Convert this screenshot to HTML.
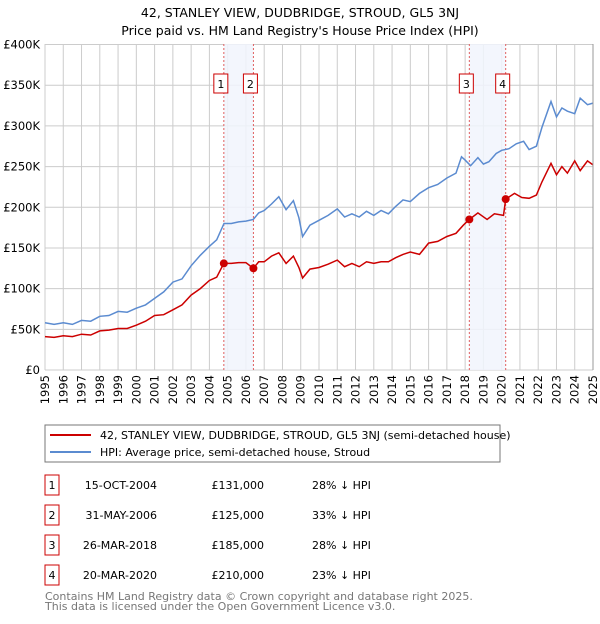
<!DOCTYPE html>
<html><head><meta charset="utf-8"><style>
body{margin:0;background:#fff;font-family:"DejaVu Sans","Liberation Sans",sans-serif;}
svg text{font-family:"DejaVu Sans","Liberation Sans",sans-serif;}
</style></head><body>
<svg id="c" width="600" height="620" viewBox="0 0 600 620" xmlns="http://www.w3.org/2000/svg">
<text x="300" y="17" text-anchor="middle" font-size="12.5">42, STANLEY VIEW, DUDBRIDGE, STROUD, GL5 3NJ</text>
<text x="300" y="35" text-anchor="middle" font-size="12.5">Price paid vs. HM Land Registry's House Price Index (HPI)</text>
<g id="grid"></g><g id="bands"></g><g id="lines"></g><g id="axes"></g>
<rect x="45" y="425" width="455" height="37" fill="#fff" stroke="#777"/>
<line x1="50" y1="435" x2="91" y2="435" stroke="#cc0000" stroke-width="2"/>
<text x="100" y="439" font-size="11">42, STANLEY VIEW, DUDBRIDGE, STROUD, GL5 3NJ (semi-detached house)</text>
<line x1="50" y1="452" x2="91" y2="452" stroke="#5b8bd0" stroke-width="2"/>
<text x="100" y="456" font-size="11">HPI: Average price, semi-detached house, Stroud</text>
<g id="table" font-size="11"></g>
<text x="45" y="600" font-size="11" fill="#777">Contains HM Land Registry data © Crown copyright and database right 2025.</text>
<text x="45" y="610" font-size="11" fill="#777">This data is licensed under the Open Government Licence v3.0.</text>
</svg>
<script>
const hpiT=[1995,1995.5,1996,1996.5,1997,1997.5,1998,1998.5,1999,1999.5,2000,2000.5,2001,2001.5,2002,2002.5,2003,2003.5,2004,2004.4,2004.8,2005.2,2005.6,2006,2006.4,2006.7,2007,2007.4,2007.8,2008.2,2008.6,2008.9,2009.1,2009.5,2010,2010.5,2011,2011.4,2011.8,2012.2,2012.6,2013,2013.4,2013.8,2014.2,2014.6,2015,2015.5,2016,2016.5,2017,2017.5,2017.8,2018,2018.3,2018.7,2019,2019.3,2019.7,2020,2020.4,2020.8,2021.2,2021.5,2021.9,2022.2,2022.7,2023,2023.3,2023.6,2024,2024.3,2024.7,2025];
const hpiV=[58,56,58,56,61,60,66,67,72,71,76,80,88,96,108,112,128,141,152,160,180,180,182,183,185,193,196,204,213,197,208,187,164,178,184,190,198,188,192,188,195,190,196,192,201,209,207,217,224,228,236,242,262,258,251,261,253,256,266,270,272,278,281,271,275,298,330,311,322,318,315,334,326,328];
const paidT=[1995,1995.5,1996,1996.5,1997,1997.5,1998,1998.5,1999,1999.5,2000,2000.5,2001,2001.5,2002,2002.5,2003,2003.5,2004,2004.4,2004.79,2005.2,2005.6,2006,2006.41,2006.7,2007,2007.4,2007.8,2008.2,2008.6,2008.9,2009.1,2009.5,2010,2010.5,2011,2011.4,2011.8,2012.2,2012.6,2013,2013.4,2013.8,2014.2,2014.6,2015,2015.5,2016,2016.5,2017,2017.5,2017.9,2018.23,2018.7,2019.2,2019.6,2020.1,2020.22,2020.7,2021.1,2021.5,2021.9,2022.2,2022.7,2023,2023.3,2023.6,2024,2024.3,2024.7,2025];
const paidV=[41,40,42,41,44,43,48,49,51,51,55,60,67,68,74,80,92,100,110,114,131,131,132,132,125,133,133,140,144,131,140,126,113,124,126,130,135,127,131,127,133,131,133,133,138,142,145,142,156,158,164,168,178,185,193,185,192,190,210,217,212,211,215,231,254,240,250,242,257,245,257,252];
const sales=[{n:"1",t:2004.79,v:131,d:"15-OCT-2004",p:"£131,000",h:"28% ↓ HPI"},{n:"2",t:2006.41,v:125,d:"31-MAY-2006",p:"£125,000",h:"33% ↓ HPI"},{n:"3",t:2018.23,v:185,d:"26-MAR-2018",p:"£185,000",h:"28% ↓ HPI"},{n:"4",t:2020.22,v:210,d:"20-MAR-2020",p:"£210,000",h:"23% ↓ HPI"}];
const yTicks=[0,50,100,150,200,250,300,350,400];
const yLabels=["£0","£50K","£100K","£150K","£200K","£250K","£300K","£350K","£400K"];
const NS="http://www.w3.org/2000/svg";
const X=t=>45+(t-1995)*(548/30), Y=v=>370-v*(325.5/400);
function mk(tag,attrs,parent){const e=document.createElementNS(NS,tag);for(const k in attrs)e.setAttribute(k,attrs[k]);parent.appendChild(e);return e;}
const grid=document.getElementById('grid'),axes=document.getElementById('axes'),bands=document.getElementById('bands'),lines=document.getElementById('lines'),table=document.getElementById('table');
for(let y=1995;y<=2025;y++){
 const l=mk('line',{x1:X(y),x2:X(y),y1:44,y2:370,stroke:'#ccc'},grid);
 
 
 const t=mk('text',{x:0,y:0,'font-size':11.5,'text-anchor':'end',transform:`translate(${X(y)+4},375) rotate(-90)`},axes);
 t.textContent=y;
 
 
}
yTicks.forEach((v,i)=>{
 const l=mk('line',{x1:45,x2:593,y1:Y(v),y2:Y(v),stroke:'#ccc'},grid);
 
 
 const t=mk('text',{x:40,y:Y(v)+4,'font-size':11.5,'text-anchor':'end'},axes);
 t.textContent=yLabels[i];
 
 
});
[[0,1],[2,3]].forEach(([a,b],i)=>{
 const r=mk('rect',{x:X(sales[a].t),y:44,width:X(sales[b].t)-X(sales[a].t),height:326,fill:'#f1f5fd',opacity:0.85},bands);
 
 
});
sales.forEach(s=>{
 const l=mk('line',{x1:X(s.t),x2:X(s.t),y1:44,y2:370,stroke:'#e06060','stroke-dasharray':'2,2'},bands);
 
 
 const r=mk('rect',{x:X(s.t)-10,y:74,width:14,height:19,fill:'#fff',stroke:'#cc0000'},bands);
 
 
 const t=mk('text',{x:X(s.t)-3,y:88,'font-size':11,'text-anchor':'middle'},bands);
 t.textContent=s.n;
 
 
});
const hp=mk('path',{d:hpiT.map((t,i)=>(i?'L':'M')+X(t).toFixed(1)+' '+Y(hpiV[i]).toFixed(1)).join(''),fill:'none',stroke:'#5b8bd0','stroke-width':1.5},lines);


const pp=mk('path',{d:paidT.map((t,i)=>(i?'L':'M')+X(t).toFixed(1)+' '+Y(paidV[i]).toFixed(1)).join(''),fill:'none',stroke:'#cc0000','stroke-width':1.5},lines);


sales.forEach((s,i)=>{
 const c=mk('circle',{cx:X(s.t),cy:Y(s.v),r:4,fill:'#cc0000'},lines);
 
 
 const ry=483+i*30;
 const b=mk('rect',{x:45,y:ry-8,width:14,height:20,fill:'#fff',stroke:'#cc0000'},table);
 
 
 const cells=[[s.n,52,'middle'],[s.d,157,'end'],[s.p,264,'end'],[s.h,312,'start']];
 cells.forEach((c2,j)=>{
  const t=mk('text',{x:c2[1],y:ry+6,'text-anchor':c2[2]},table);
  t.textContent=c2[0];
  
  
 });
});
const ax=mk('line',{x1:593,x2:593,y1:44,y2:370,stroke:'#999'},axes);


</script>
</body></html>
